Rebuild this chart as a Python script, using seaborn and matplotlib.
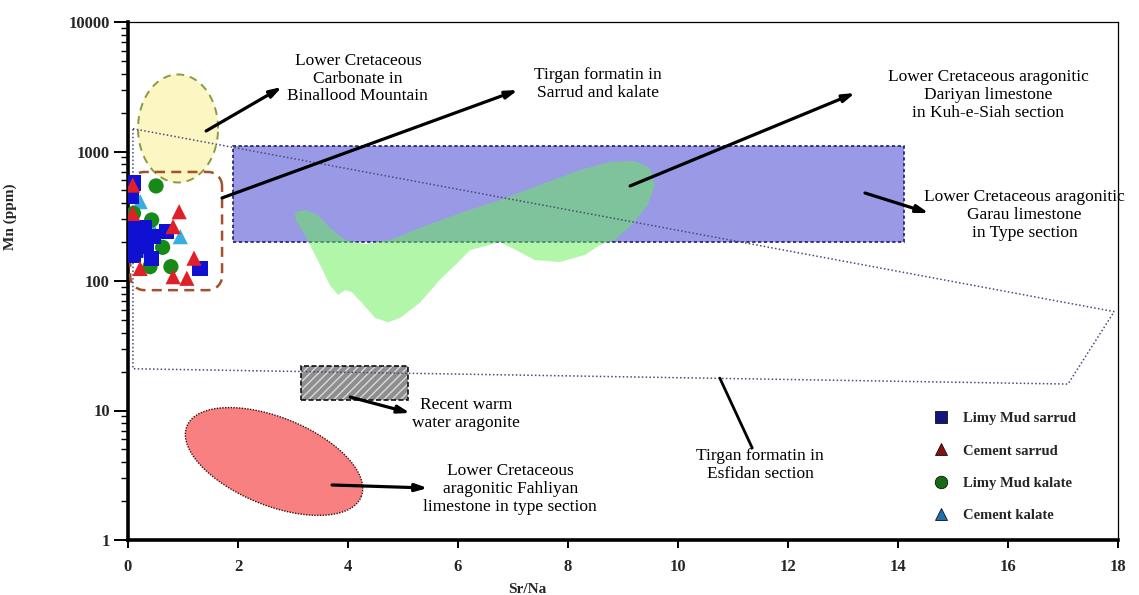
import numpy as np
import pandas as pd
import matplotlib
matplotlib.use("Agg")
import matplotlib.pyplot as plt
import seaborn as sns
from matplotlib.lines import Line2D
from matplotlib.patches import Rectangle, Polygon
from matplotlib.ticker import LogLocator, NullFormatter

# ---------------------------------------------------------------- data
group_names = ["Limy Mud sarrud", "Cement sarrud", "Limy Mud kalate", "Cement kalate"]

limy_mud_sarrud_srna = [0.10, 0.07, 0.13, 0.25, 0.46, 0.13, 0.34, 0.10, 0.43, 0.70, 1.31, 0.20, 0.05, 0.30]
limy_mud_sarrud_mn = [571, 448, 257, 220, 220, 173, 184, 159, 150, 240, 125, 200, 210, 260]

cement_sarrud_srna = [0.085, 0.93, 0.085, 0.82, 0.22, 1.20, 0.82, 1.07]
cement_sarrud_mn = [551, 343, 333, 263, 125, 150, 108, 105]

limy_mud_kalate_srna = [0.51, 0.10, 0.43, 0.63, 0.40, 0.78, 0.02]
limy_mud_kalate_mn = [542, 333, 296, 182, 129, 129, 240]

cement_kalate_srna = [0.22, 0.95, 0.28, 0.22, 0.40]
cement_kalate_mn = [410, 220, 201, 173, 280]

x_ticks = [0, 2, 4, 6, 8, 10, 12, 14, 16, 18]
y_ticks = [1, 10, 100, 1000, 10000]
y_tick_labels = ["1", "10", "100", "1000", "10000"]

# reference fields (Sr/Na, Mn ppm)
garau_box = (1.9, 14.1, 200, 1100)
warm_water_box = (3.15, 5.09, 12, 22)
tirgan_box = (0.04, 1.71, 85, 695)
esfidan_outline_srna = [0.09, 17.93, 17.09, 0.09]
esfidan_outline_mn = [1500, 58, 16, 21]
dariyan_srna = [8.85, 8.58, 8.31, 7.85, 7.40, 6.98, 6.76, 6.22, 5.95, 5.67, 5.31, 4.95, 4.73,
                4.49, 4.25, 4.07, 3.95, 3.82, 3.67, 3.45, 3.22, 3.05, 3.04, 3.22, 3.45, 3.67,
                3.95, 4.31, 4.76, 5.31, 6.04, 6.76, 7.49, 8.22, 8.76, 9.22, 9.49, 9.58, 9.45, 9.16]
dariyan_mn = [207, 190, 159, 140, 145, 180, 200, 173, 133, 102, 68, 52, 48,
              52, 68, 82, 85, 78, 93, 145, 226, 296, 341, 353, 324, 257,
              207, 193, 207, 257, 335, 422, 551, 720, 830, 845, 746, 551, 386, 271]
binalood_center = (0.91, 1506)
fahliyan_center = (2.655, 4.04)

# ---------------------------------------------------------------- figure
sns.set_style("ticks")
plt.rcParams["font.family"] = ["Liberation Serif", "DejaVu Serif"]

fig = plt.figure(figsize=(11.39, 5.95), dpi=100)
ax = fig.add_axes([128 / 1139, 55 / 595, 990 / 1139, 518 / 595])
ax.set_yscale("log")
ax.set_xlim(0, 18)
ax.set_ylim(1, 10000)


def screen_shape(center, dx, dy):
    """Offsets given in screen pixels around a data-space centre -> data coords."""
    cx, cy = ax.transData.transform(center)
    pts = np.column_stack([cx + np.asarray(dx), cy + np.asarray(dy)])
    return ax.transData.inverted().transform(pts)


def ellipse(center, a, b, angle=0.0, n=240):
    t = np.linspace(0, 2 * np.pi, n)
    th = np.deg2rad(angle)
    ex, ey = a * np.cos(t), b * np.sin(t)
    return screen_shape(center, ex * np.cos(th) - ey * np.sin(th), ex * np.sin(th) + ey * np.cos(th))


def rounded_box(x0, x1, y0, y1, r=14, n=12):
    (px0, py0), (px1, py1) = ax.transData.transform([(x0, y0), (x1, y1)])
    pts = []
    for cx, cy, a0 in [(px1 - r, py1 - r, 0), (px0 + r, py1 - r, 90),
                       (px0 + r, py0 + r, 180), (px1 - r, py0 + r, 270)]:
        ang = np.deg2rad(np.linspace(a0, a0 + 90, n))
        pts += list(zip(cx + r * np.cos(ang), cy + r * np.sin(ang)))
    return ax.transData.inverted().transform(np.array(pts))


# Garau limestone band
gx0, gx1, gy0, gy1 = garau_box
ax.add_patch(Rectangle((gx0, gy0), gx1 - gx0, gy1 - gy0, facecolor="#9999e6",
                       edgecolor="#1c1c6e", linestyle=(0, (2, 1.5)), linewidth=1.2, zorder=1))

# Dariyan limestone field
ax.add_patch(Polygon(np.column_stack([dariyan_srna, dariyan_mn]), closed=True,
                     facecolor="#66ee55", alpha=0.5, edgecolor="none", zorder=2))

# Binalood carbonate field
ax.add_patch(Polygon(ellipse(binalood_center, 40, 54), closed=True, facecolor="#fbf6c2",
                     edgecolor="#8a9b3c", linestyle=(0, (4, 3)), linewidth=1.4, zorder=2))

# Fahliyan limestone field
ax.add_patch(Polygon(ellipse(fahliyan_center, 94, 44, -22), closed=True, facecolor="#f98080",
                     edgecolor="#3a1010", linestyle=(0, (1, 1)), linewidth=1.0, zorder=2))

# Recent warm-water aragonite
wx0, wx1, wy0, wy1 = warm_water_box
ax.add_patch(Rectangle((wx0, wy0), wx1 - wx0, wy1 - wy0, facecolor="#8e8e8e",
                       edgecolor="#dadada", hatch="////", linewidth=0, zorder=2))
ax.add_patch(Rectangle((wx0, wy0), wx1 - wx0, wy1 - wy0, fill=False,
                       edgecolor="#111111", linestyle=(0, (3, 1.5)), linewidth=1.2, zorder=3))

# Tirgan formation, Esfidan section
ax.add_patch(Polygon(np.column_stack([esfidan_outline_srna, esfidan_outline_mn]), closed=True,
                     fill=False, edgecolor="#4a4a78", linestyle=(0, (1, 1.5)), linewidth=1.1, zorder=3))

# Tirgan formation, Sarrud and kalate
tx0, tx1, ty0, ty1 = tirgan_box
ax.add_patch(Polygon(rounded_box(tx0, tx1, ty0, ty1), closed=True, fill=False,
                     edgecolor="#a0522d", linestyle=(0, (4, 2.5)), linewidth=1.8, zorder=3))

# samples
df = pd.concat([
    pd.DataFrame({"Sr/Na": cement_kalate_srna, "Mn": cement_kalate_mn, "group": group_names[3]}),
    pd.DataFrame({"Sr/Na": limy_mud_kalate_srna, "Mn": limy_mud_kalate_mn, "group": group_names[2]}),
    pd.DataFrame({"Sr/Na": limy_mud_sarrud_srna, "Mn": limy_mud_sarrud_mn, "group": group_names[0]}),
    pd.DataFrame({"Sr/Na": cement_sarrud_srna, "Mn": cement_sarrud_mn, "group": group_names[1]}),
], ignore_index=True)

point_colors = {group_names[0]: "#1010d2", group_names[1]: "#e02028",
                group_names[2]: "#168a16", group_names[3]: "#38aee0"}
point_markers = {group_names[0]: "s", group_names[1]: "^",
                 group_names[2]: "o", group_names[3]: "^"}
sns.scatterplot(data=df, x="Sr/Na", y="Mn", hue="group", style="group",
                palette=point_colors, markers=point_markers, s=120, linewidth=0,
                legend=False, ax=ax, zorder=4)

# legend
legend_colors = ["#14147e", "#8a1010", "#166a16", "#1f70b0"]
legend_markers = ["s", "^", "o", "^"]
handles = [Line2D([], [], linestyle="none", marker=m, markerfacecolor=c,
                  markeredgecolor="#101010", markeredgewidth=0.6, markersize=9)
           for m, c in zip(legend_markers, legend_colors)]
ax.legend(handles, group_names, loc="upper left", bbox_to_anchor=(0.808, 0.258),
          frameon=False, prop={"weight": "bold", "size": 10.5}, handlelength=1.0,
          handletextpad=1.0, labelspacing=1.3, borderaxespad=0)

# annotations
arrow_kw = dict(arrowstyle="-|>,head_length=0.7,head_width=0.22", lw=2.3, color="black",
                shrinkA=0, shrinkB=0)
arrows = [((1.42, 1440), (2.80, 3150)), ((1.71, 438), (7.09, 2985)),
          ((9.13, 542), (13.22, 2830)), ((13.40, 478), (14.56, 335)),
          ((4.04, 12.7), (5.13, 9.57)), ((3.71, 2.66), (5.45, 2.52))]
for tail, head in arrows:
    ax.annotate("", xy=head, xytext=tail, arrowprops=arrow_kw, zorder=5)
ax.plot([10.76, 11.35], [17.8, 5.13], color="black", lw=2.0, zorder=5)

text_kw = dict(ha="center", va="center", fontsize=12.5, linespacing=1.15, color="black", zorder=6)
ax.text(4.18, 3650, "Lower Cretaceous\nCarbonate in\nBinallood Mountain", **text_kw)
ax.text(8.55, 3320, "Tirgan formatin in\nSarrud and kalate", **text_kw)
ax.text(15.64, 2730, "Lower Cretaceous aragonitic\nDariyan limestone\nin Kuh-e-Siah section", **text_kw)
ax.text(16.3, 323, "Lower Cretaceous aragonitic\nGarau limestone\nin Type section",
        clip_on=False, **text_kw)
ax.text(6.15, 9.4, "Recent warm\nwater aragonite", **text_kw)
ax.text(6.95, 2.48, "Lower Cretaceous\naragonitic Fahliyan\nlimestone in type section", **text_kw)
ax.text(11.49, 3.8, "Tirgan formatin in\nEsfidan section", **text_kw)

# axes styling
ax.set_xticks(x_ticks)
ax.set_xticklabels([str(v) for v in x_ticks], fontweight="bold", fontsize=12)
ax.set_yticks(y_ticks)
ax.set_yticklabels(y_tick_labels, fontweight="bold", fontsize=12)
ax.yaxis.set_minor_locator(LogLocator(base=10, subs=np.arange(2, 10)))
ax.yaxis.set_minor_formatter(NullFormatter())
ax.tick_params(axis="y", which="major", length=10, width=1.4, direction="out", pad=3, color="black")
ax.tick_params(axis="y", which="minor", length=5, width=1.0, direction="out", color="black")
ax.tick_params(axis="x", which="major", length=6, width=1.4, direction="out", pad=8, color="black")
ax.tick_params(axis="x", which="minor", length=0)

for side in ["left", "bottom"]:
    ax.spines[side].set_linewidth(2.6)
    ax.spines[side].set_color("black")
for side in ["top", "right"]:
    ax.spines[side].set_linewidth(0.9)
    ax.spines[side].set_color("black")

ax.set_xlabel("Sr/Na", fontweight="bold", fontsize=11)
ax.xaxis.set_label_coords(0.403, -0.083)
ax.set_ylabel("Mn (ppm)", fontweight="bold", fontsize=11)
ax.yaxis.set_label_coords(-0.112, 0.624)

fig.savefig("out.png", dpi=100, facecolor="white")
